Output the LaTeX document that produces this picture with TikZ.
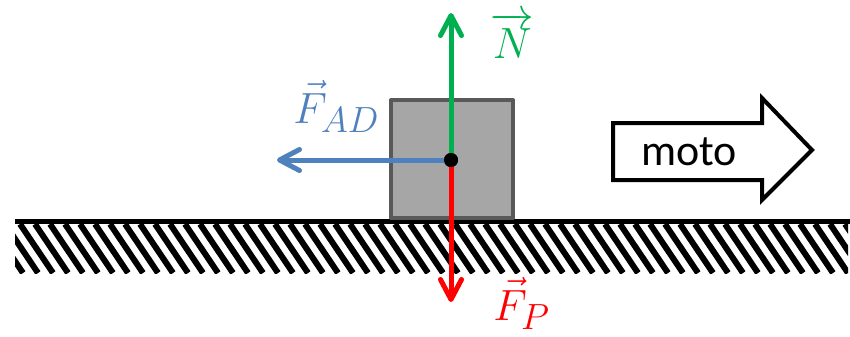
\documentclass[tikz,border=0pt]{standalone}
\usepackage{amsmath}
\usepackage{fontspec}
\newfontfamily\motofont{Carlito}
\usepackage{tikz}
\usetikzlibrary{arrows.meta}

\definecolor{normalgreen}{HTML}{00B050}
\definecolor{dragblue}{HTML}{4F81BD}
\definecolor{weightred}{HTML}{FF0000}
\definecolor{boxfill}{HTML}{A6A6A6}
\definecolor{boxedge}{HTML}{595959}

\begin{document}
\begin{tikzpicture}[
  x = 0.02cm, y = -0.02cm,
  force/.style     = {line width=0.1cm, line cap=round,
                      -{Straight Barb[length=0.4cm, width=0.42cm, round]}},
  forcelabel/.style= {inner sep=0pt, font=\fontsize{28}{32}\selectfont},
  hatchline/.style = {line width=0.12cm, black},
  block/.style     = {draw=boxedge, fill=boxfill, line width=0.08cm, line join=round},
  cgdot/.style     = {circle, fill=black, inner sep=0pt, minimum size=0.28cm}
]
\useasboundingbox (0,0) rectangle (850,336);

% ── Ground (hatched strip) ──────────────────────────────────────────────────
\begin{scope}
  \clip (15,224) rectangle (848,273);
  \foreach \hx in {-40,-25,...,860}
    \draw[hatchline] (\hx,224) -- ++(33,49);
\end{scope}
\coordinate (gleft)  at (15,221);
\coordinate (gright) at (850,221);
\draw[line width=0.1cm] (gleft) -- (gright);

% ── Block on the ground ─────────────────────────────────────────────────────
\draw[block] (391,100) rectangle (513,218);

% ── Force vectors ───────────────────────────────────────────────────────────
\node[cgdot] (cg) at (451,160) {};
\coordinate (ntip)  at (451,13);
\coordinate (adtip) at (277,160);
\coordinate (ptip)  at (451,302);

\draw[force, dragblue]    (cg.center) -- (adtip);
\draw[force, normalgreen] (cg.center) -- (ntip);
\draw[force, weightred]   (cg.center) -- (ptip);
\node[cgdot] at (cg) {};

\node[forcelabel, text=normalgreen, anchor=base west] (nlab)  at (490,58)
     {$\overrightarrow{N}$};
\node[forcelabel, text=dragblue, anchor=base west]    (adlab) at (293,123)
     {$\vec{F}_{AD}$};
\node[forcelabel, text=weightred, anchor=base west]   (plab)  at (493,320)
     {$\vec{F}_{P}$};

% ── Direction of motion ─────────────────────────────────────────────────────
\draw[line width=0.08cm, fill=white]
     (613,123) -- (762,123) -- (762,98) -- (812,150)
  -- (762,200) -- (762,180) -- (613,180) -- cycle;
\node[font=\motofont\fontsize{25}{30}\selectfont] (moto) at (689,152) {moto};
\end{tikzpicture}
\end{document}
